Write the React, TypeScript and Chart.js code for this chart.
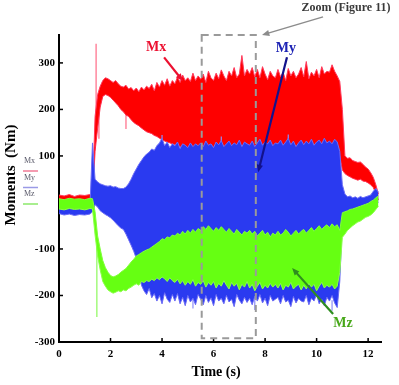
import React, { useEffect, useRef } from "react";
import { Chart, registerables } from "chart.js";

Chart.register(...registerables);

// ---- data (time in s, moments in Nm) ----
const time = [
  0, 0.2, 0.4, 0.6, 0.8, 1.0, 1.2, 1.3, 1.4,
  1.5, 1.6, 1.7, 1.8, 1.9, 2.0, 2.1, 2.2, 2.3, 2.4,
  2.5, 2.6, 2.7, 2.8, 2.9, 3.0, 3.1, 3.2, 3.3, 3.4,
  3.5, 3.6, 3.7, 3.8, 3.9, 4.0, 4.1, 4.2, 4.3, 4.4,
  4.5, 4.6, 4.7, 4.8, 4.9, 5.0, 5.1, 5.2, 5.3, 5.4,
  5.5, 5.6, 5.7, 5.8, 5.9, 6.0, 6.1, 6.2, 6.3, 6.4,
  6.5, 6.6, 6.7, 6.8, 6.9, 7.0, 7.1, 7.2, 7.3, 7.4,
  7.5, 7.6, 7.7, 7.8, 7.9, 8.0, 8.1, 8.2, 8.3, 8.4,
  8.5, 8.6, 8.7, 8.8, 8.9, 9.0, 9.1, 9.2, 9.3, 9.4,
  9.5, 9.6, 9.7, 9.8, 9.9, 10.0, 10.1, 10.2, 10.3, 10.4,
  10.5, 10.6, 10.7, 10.8, 10.9, 11.0, 11.1, 11.2, 11.3, 11.4,
  11.5, 11.6, 11.7, 11.8, 11.9, 12.0, 12.1, 12.2, 12.3, 12.4,
];

const mxHigh = [
  16, 14, 17, 13, 16, 15, 17, 20, 185,
  232, 250, 262, 268, 266, 262, 258, 262, 255, 250,
  248, 252, 244, 247, 240, 246, 238, 248, 242, 250,
  245, 254, 240, 258, 248, 262, 252, 266, 250, 262,
  255, 270, 258, 274, 262, 268, 260, 278, 262, 272,
  265, 276, 258, 282, 268, 262, 278, 266, 285, 272,
  262, 282, 272, 290, 268, 276, 316, 272, 286, 276,
  290, 270, 286, 268, 292, 276, 264, 282, 272, 268,
  286, 270, 280, 262, 288, 272, 282, 268, 276, 290,
  270, 303, 266, 280, 272, 286, 268, 292, 276, 282,
  280, 296, 282, 272, 260, 200, 100, 95, 96, 90,
  88, 86, 87, 82, 76, 72, 64, 54, 38, 18,
];
const mxLow = [
  2, 0, 3, 1, 2, 0, 3, 4, 110,
  160, 205, 228, 232, 230, 226, 220, 214, 208, 200,
  195, 188, 185, 178, 172, 168, 165, 160, 156, 152,
  150, 148, 144, 142, 138, 135, 132, 130, 128, 126,
  124, 122, 120, 118, 116, 114, 112, 110, 108, 106,
  100, 100, 100, 100, 100, 100, 100, 100, 100, 100,
  100, 100, 100, 100, 100, 100, 100, 100, 100, 100,
  100, 100, 100, 100, 100, 100, 100, 100, 100, 100,
  100, 100, 100, 100, 100, 100, 100, 100, 100, 100,
  100, 100, 100, 100, 100, 100, 100, 100, 100, 100,
  100, 100, 100, 100, 100, 70, 62, 58, 55, 52,
  50, 48, 50, 46, 45, 42, 38, 32, 20, 5,
];

const myHigh = [
  -10, -12, -9, -11, -10, -12, -10, 128, 50,
  44, 40, 38, 36, 35, 36, 33, 34, 31, 30,
  30, 33, 40, 50, 62, 72, 82, 90, 98, 104,
  108, 115, 112, 122, 128, 138, 122, 130, 118, 126,
  122, 130, 116, 126, 123, 118, 128, 120, 126, 122,
  128, 120, 132, 123, 126, 118, 130, 124, 133, 120,
  126, 132, 122, 128, 124, 134, 120, 130, 126, 123,
  132, 120, 128, 136, 123, 130, 126, 134, 122, 128,
  126, 134, 123, 130, 138, 124, 132, 120, 128, 134,
  124, 132, 126, 136, 123, 130, 134, 126, 138, 128,
  132, 126, 136, 130, 110, 38, 18, 12, 14, 10,
  12, 9, 13, 10, 12, 14, 16, 24, 30, 22,
];
const myLow = [
  -24, -27, -25, -28, -26, -27, -25, -20, -5,
  -10, -18, -22, -26, -29, -33, -38, -44, -50, -55,
  -58, -68, -80, -92, -105, -120, -150, -178, -190, -198,
  -185, -205, -196, -212, -200, -218, -194, -208, -215, -198,
  -212, -196, -218, -204, -222, -200, -214, -206, -220, -198,
  -208, -220, -200, -215, -205, -222, -198, -212, -206, -218,
  -200, -214, -208, -224, -198, -210, -218, -204, -215, -206,
  -220, -202, -212, -198, -216, -206, -222, -200, -212, -208,
  -204, -218, -200, -214, -210, -224, -202, -216, -206, -212,
  -214, -200, -220, -206, -212, -198, -218, -208, -222, -204,
  -212, -200, -216, -226, -170, -40, -28, -25, -24, -22,
  -20, -18, -17, -15, -13, -12, -10, -8, -5, 0,
];

const mzHigh = [
  8, 6, 9, 7, 8, 6, 9, 8, -20,
  -72, -100, -125, -140, -150, -157, -160, -158, -155, -150,
  -146, -142, -135, -128, -122, -115, -112, -108, -105, -102,
  -100, -96, -92, -88, -84, -78, -80, -74, -76, -70,
  -72, -66, -70, -62, -68, -60, -66, -58, -64, -56,
  -60, -52, -58, -50, -56, -62, -54, -60, -52, -58,
  -64, -56, -62, -68, -58, -64, -70, -62, -66, -60,
  -68, -62, -72, -66, -60, -70, -64, -74, -66, -70,
  -62, -70, -66, -58, -64, -72, -66, -60, -68, -62,
  -58, -66, -60, -54, -62, -56, -50, -58, -52, -48,
  -54, -46, -52, -48, -60, -22, -20, -18, -15, -14,
  -12, -10, -8, -6, -4, -2, 2, 5, 10, 14,
];
const mzLow = [
  -14, -16, -13, -15, -14, -16, -13, -14, -70,
  -115, -145, -170, -180, -188, -192, -195, -193, -190, -192,
  -188, -190, -185, -182, -178, -175, -178, -170, -172, -168,
  -170, -165, -168, -162, -166, -160, -164, -170, -162, -168,
  -172, -165, -175, -168, -178, -170, -176, -166, -180, -172,
  -176, -168, -182, -172, -178, -170, -184, -174, -180, -168,
  -178, -186, -172, -180, -174, -188, -176, -182, -170, -184,
  -176, -190, -180, -172, -186, -178, -184, -174, -182, -176,
  -184, -174, -188, -178, -182, -172, -186, -180, -176, -188,
  -178, -186, -174, -182, -176, -190, -180, -172, -184, -178,
  -182, -176, -186, -180, -150, -75, -68, -60, -55, -50,
  -46, -42, -40, -36, -32, -30, -27, -22, -15, -8,
];

// isolated spikes: [time, from, to]
const mxSpikes = [[1.44, 185, 341], [1.55, 200, 137], [2.6, 190, 158], [4.8, 255, 272]];
const mySpikes = [[4.0, 125, 145], [6.3, 120, 142], [8.9, 125, 146], [5.2, -200, -228], [7.6, -205, -231], [10.6, -210, -233]];
const mzSpikes = [[1.47, -70, -246]];

const xTicks = [0, 2, 4, 6, 8, 10, 12];
const yTicks = [-300, -200, -100, 100, 200, 300];
const seriesNames = ["Mx", "My", "Mz"];
const legendLineColors = ["#f07a96", "#9a9ae6", "#8be86a"];

// annotations (data coordinates: [time, value])
const calloutText = ["Mx", "My", "Mz"];
const calloutAt = [[3.77, 334], [8.81, 332], [11.02, -259]];
const calloutFrom = [[4.08, 312], [8.85, 312], [10.64, -240]];
const calloutTo = [[4.81, 261], [7.73, 65], [9.05, -141]];
const calloutTextColor = ["#ec1030", "#1c22b4", "#48a81a"];
const calloutArrowColor = ["#ec1030", "#12128c", "#2f8d1f"];
const zoomText = "Zoom (Figure 11)";
const zoomTextAt = [11.14, 418];
const zoomArrowFrom = [10.25, 399];
const zoomArrowTo = [7.88, 360];
const zoomBox = [5.54, 7.64, -292, 360];

const SERIF = "'Liberation Serif', 'Times New Roman', serif";

const pts = (arr: number[]) => time.map((t, i) => ({ x: t, y: arr[i] }));
const spikePts = (sp: number[][]) => {
  const out: { x: number; y: number | null }[] = [];
  sp.forEach(([t, a, b]) => {
    out.push({ x: t, y: a }, { x: t, y: b }, { x: t, y: null });
  });
  return out;
};

function arrow(ctx: CanvasRenderingContext2D, x1: number, y1: number, x2: number, y2: number, color: string, w: number, head: number) {
  const ang = Math.atan2(y2 - y1, x2 - x1);
  ctx.strokeStyle = color;
  ctx.fillStyle = color;
  ctx.lineWidth = w;
  ctx.beginPath();
  ctx.moveTo(x1, y1);
  ctx.lineTo(x2 - Math.cos(ang) * head * 0.6, y2 - Math.sin(ang) * head * 0.6);
  ctx.stroke();
  ctx.beginPath();
  ctx.moveTo(x2, y2);
  ctx.lineTo(x2 - head * Math.cos(ang - 0.4), y2 - head * Math.sin(ang - 0.4));
  ctx.lineTo(x2 - head * Math.cos(ang + 0.4), y2 - head * Math.sin(ang + 0.4));
  ctx.closePath();
  ctx.fill();
}

const decor = {
  id: "decor",
  afterDraw(chart: any) {
    const { ctx, chartArea } = chart;
    const xs = chart.scales.x;
    const ys = chart.scales.y;
    const px = (t: number) => xs.getPixelForValue(t);
    const py = (v: number) => ys.getPixelForValue(v);
    ctx.save();

    // inward tick marks
    ctx.strokeStyle = "#000";
    ctx.lineWidth = 1.5;
    xTicks.forEach((t) => {
      ctx.beginPath();
      ctx.moveTo(px(t), chartArea.bottom);
      ctx.lineTo(px(t), chartArea.bottom - 4);
      ctx.stroke();
    });
    yTicks.forEach((v) => {
      ctx.beginPath();
      ctx.moveTo(chartArea.left, py(v));
      ctx.lineTo(chartArea.left + 4, py(v));
      ctx.stroke();
    });

    // dashed zoom box
    ctx.strokeStyle = "#9a9a9a";
    ctx.lineWidth = 2;
    ctx.setLineDash([7, 5]);
    ctx.strokeRect(px(zoomBox[0]), py(zoomBox[3]), px(zoomBox[1]) - px(zoomBox[0]), py(zoomBox[2]) - py(zoomBox[3]));
    ctx.setLineDash([]);

    // zoom label + arrow
    ctx.font = `bold 12px ${SERIF}`;
    ctx.fillStyle = "#3a3a3a";
    ctx.textAlign = "center";
    ctx.textBaseline = "middle";
    ctx.fillText(zoomText, px(zoomTextAt[0]), py(zoomTextAt[1]));
    arrow(ctx, px(zoomArrowFrom[0]), py(zoomArrowFrom[1]), px(zoomArrowTo[0]), py(zoomArrowTo[1]), "#8c8c8c", 1.5, 8);

    // callouts
    calloutText.forEach((txt, i) => {
      arrow(ctx, px(calloutFrom[i][0]), py(calloutFrom[i][1]), px(calloutTo[i][0]), py(calloutTo[i][1]), calloutArrowColor[i], 2.2, 8);
      ctx.font = `bold 14px ${SERIF}`;
      ctx.fillStyle = calloutTextColor[i];
      ctx.textAlign = "center";
      ctx.textBaseline = "middle";
      ctx.fillText(txt, px(calloutAt[i][0]), py(calloutAt[i][1]));
    });

    // small legend
    ctx.font = `8px ${SERIF}`;
    ctx.textAlign = "left";
    ctx.textBaseline = "alphabetic";
    seriesNames.forEach((name, i) => {
      const yy = 163 + i * 16.5;
      ctx.fillStyle = "#5a5a6a";
      ctx.fillText(name, 24, yy);
      ctx.strokeStyle = legendLineColors[i];
      ctx.lineWidth = 1.5;
      ctx.beginPath();
      ctx.moveTo(23, yy + 8);
      ctx.lineTo(38, yy + 8);
      ctx.stroke();
    });

    // axis titles
    ctx.fillStyle = "#000";
    ctx.font = `bold 14px ${SERIF}`;
    ctx.textAlign = "center";
    ctx.textBaseline = "middle";
    ctx.fillText("Time (s)", (chartArea.left + chartArea.right) / 2 - 4, 372);
    ctx.save();
    ctx.translate(11, 175);
    ctx.rotate(-Math.PI / 2);
    ctx.font = `bold 15px ${SERIF}`;
    ctx.fillText("Moments  (Nm)", 0, 0);
    ctx.restore();

    ctx.restore();
  },
};

export default function App() {
  const ref = useRef<HTMLCanvasElement | null>(null);
  useEffect(() => {
    if (!ref.current) return;
    const tickFont = { family: SERIF, size: 11, weight: "bold" as const };
    const chart = new Chart(ref.current, {
      type: "line",
      data: {
        datasets: [
          { data: pts(mxLow), borderColor: "#ff2a4a", borderWidth: 1, fill: false, order: 2 },
          { data: pts(mxHigh), borderColor: "#ff3a5c", borderWidth: 1, backgroundColor: "#fe0000", fill: "-1", order: 2 },
          { data: pts(myLow), borderColor: "#6a6af5", borderWidth: 1, fill: false, order: 1 },
          { data: pts(myHigh), borderColor: "#6b6df6", borderWidth: 1, backgroundColor: "#2a3af0", fill: "-1", order: 1 },
          { data: pts(mzLow), borderColor: "#8cff4a", borderWidth: 1, fill: false, order: 0 },
          { data: pts(mzHigh), borderColor: "#80ff3a", borderWidth: 1, backgroundColor: "#66ff12", fill: "-1", order: 0 },
          { data: spikePts(mxSpikes) as any, borderColor: "#ff6a86", borderWidth: 1.2, fill: false, spanGaps: false, order: 2 },
          { data: spikePts(mySpikes) as any, borderColor: "#8e8ef8", borderWidth: 1.2, fill: false, spanGaps: false, order: 1 },
          { data: spikePts(mzSpikes) as any, borderColor: "#8cf85c", borderWidth: 1.2, fill: false, spanGaps: false, order: 0 },
        ],
      },
      options: {
        animation: false,
        responsive: false,
        devicePixelRatio: 1,
        layout: { padding: { top: 35, right: 18, left: 0, bottom: 0 } },
        plugins: { legend: { display: false }, tooltip: { enabled: false } },
        elements: { point: { radius: 0 }, line: { tension: 0 } },
        scales: {
          x: {
            type: "linear",
            min: 0,
            max: 12.5,
            afterFit: (s: any) => { s.height = 43; },
            afterBuildTicks: (s: any) => { s.ticks = xTicks.map((v) => ({ value: v })); },
            grid: { display: false, drawTicks: false },
            border: { display: true, color: "#000", width: 2 },
            ticks: { padding: 6, font: tickFont, color: "#000", maxRotation: 0, autoSkip: false },
          },
          y: {
            type: "linear",
            min: -300,
            max: 360,
            afterFit: (s: any) => { s.width = 59; },
            afterBuildTicks: (s: any) => { s.ticks = yTicks.map((v) => ({ value: v })); },
            grid: { display: false, drawTicks: false },
            border: { display: true, color: "#000", width: 2 },
            ticks: { padding: 4, font: tickFont, color: "#000", autoSkip: false },
          },
        },
      },
      plugins: [decor],
    });
    return () => chart.destroy();
  }, []);
  return (
    <div style={{ position: "fixed", left: 0, top: 0, width: 399, height: 385, background: "#fff" }}>
      <canvas ref={ref} width={399} height={385} />
    </div>
  );
}
